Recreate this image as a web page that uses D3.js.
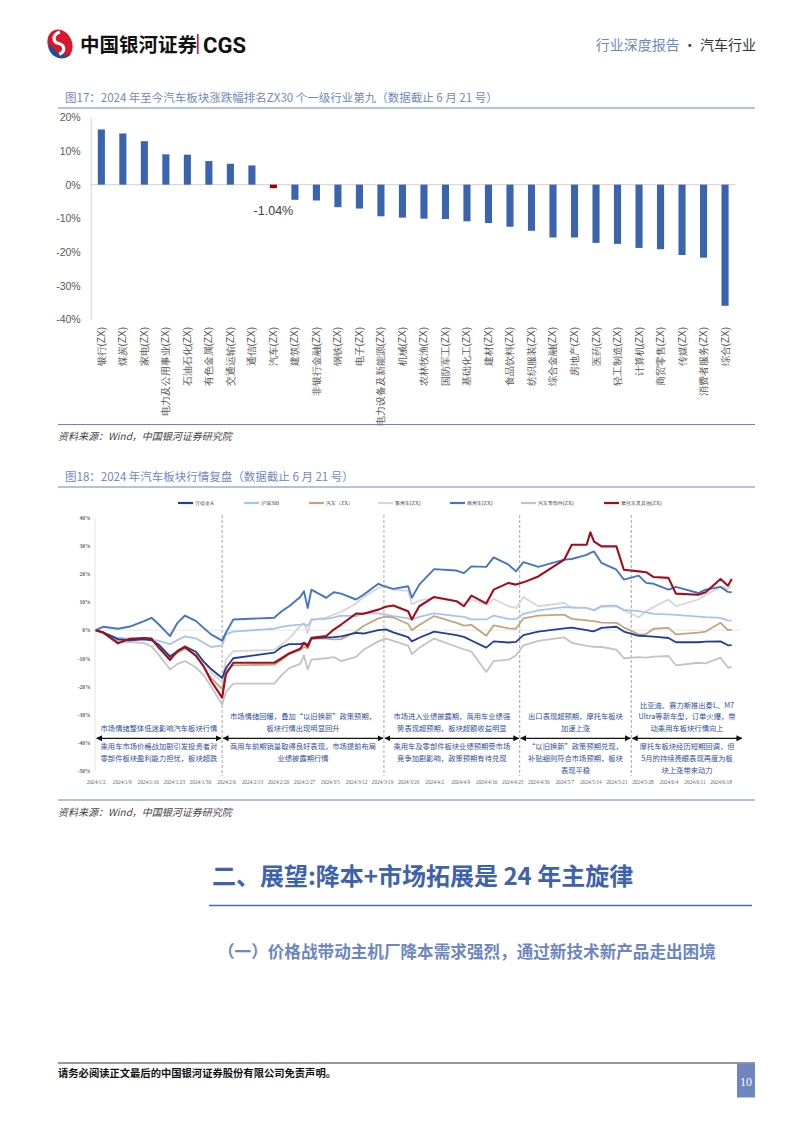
<!DOCTYPE html>
<html><head><meta charset="utf-8">
<script src="https://cdn.jsdelivr.net/npm/d3@7"></script>
<style>
body{margin:0;background:#fff;}
svg{display:block;font-family:"Noto Sans CJK SC","Noto Sans",sans-serif;}
</style></head><body>
<svg id="page" width="794" height="1123"></svg>
<script>
// ---------- Figure 17 data ----------
const industries = ["银行(ZX)","煤炭(ZX)","家电(ZX)","电力及公用事业(ZX)","石油石化(ZX)","有色金属(ZX)","交通运输(ZX)","通信(ZX)","汽车(ZX)","建筑(ZX)","非银行金融(ZX)","钢铁(ZX)","电子(ZX)","电力设备及新能源(ZX)","机械(ZX)","农林牧渔(ZX)","国防军工(ZX)","基础化工(ZX)","建材(ZX)","食品饮料(ZX)","纺织服装(ZX)","综合金融(ZX)","房地产(ZX)","医药(ZX)","轻工制造(ZX)","计算机(ZX)","商贸零售(ZX)","传媒(ZX)","消费者服务(ZX)","综合(ZX)"];
const industryReturns = [16.4,15.2,12.9,9.0,8.9,7.0,6.2,5.7,-1.04,-4.5,-4.7,-6.7,-7.1,-9.4,-9.8,-10.1,-10.2,-10.9,-11.4,-12.5,-13.7,-15.7,-15.7,-17.3,-17.6,-18.8,-19.2,-20.9,-21.7,-36.0];
const ticks17 = [20,10,0,-10,-20,-30,-40];

// ---------- Figure 18 data ----------
const tradeDates = ["2024-01-02","2024-01-04","2024-01-08","2024-01-11","2024-01-15","2024-01-17","2024-01-19","2024-01-22","2024-01-24","2024-01-26",
"2024-01-29","2024-01-31","2024-02-02","2024-02-05","2024-02-06","2024-02-08","2024-02-19","2024-02-21","2024-02-23","2024-02-26",
"2024-02-27","2024-02-28","2024-02-29","2024-03-04","2024-03-06","2024-03-08","2024-03-12","2024-03-14","2024-03-18","2024-03-20",
"2024-03-22","2024-03-26","2024-03-27","2024-03-29","2024-04-02","2024-04-08","2024-04-10","2024-04-12","2024-04-16","2024-04-18",
"2024-04-22","2024-04-24","2024-04-26","2024-04-30","2024-05-07","2024-05-09","2024-05-13","2024-05-14","2024-05-15","2024-05-17",
"2024-05-21","2024-05-23","2024-05-27","2024-05-29","2024-05-31","2024-06-04","2024-06-06","2024-06-12","2024-06-14","2024-06-18",
"2024-06-20","2024-06-21"];
const windA = [0,-0.8,-3.2,-3.6,-3.3,-3.6,-5.2,-9.4,-7.5,-5.8, -7.8,-11.2,-13.8,-17,-13.5,-10,-8,-6,-5,-5, -4.5,-5.2,-3,-2.6,-2.5,-2.2,-1,-1.2,0,0.3, -0.8,-2.5,-4,-2.7,-0.5,-1.8,-2.4,-3.7,-6.2,-4, -4.4,-4.2,-1.8,-0.5,0.6,0.9,0,-0.3,-0.4,0.8, 1.2,-0.5,-2,-2.1,-2.3,-2.8,-4.3,-4.3,-4.1,-4, -5.4,-5.3];
const hs300 = [0,-1,-2.8,-3,-3.2,-3.4,-3.8,-5,-3.5,-2.2, -3,-4.5,-6,-5.5,-1.5,-0.5,0.5,1.2,1.6,2, 2.2,1.5,3.8,4,4.5,5.2,5,6,6,5.5, 5,4.2,3.8,4.7,6,5,4.7,3.8,3.8,5.2, 4,3.9,5.8,7,8.2,8.1,7.9,7.5,7.2,8.6, 8.7,7.2,6.8,6.3,5.8,5.6,5.4,4.8,4.6,4.4, 3.5,3.4];
const autoZX = [0,-1,-4,-3.5,-3,-3.3,-6,-9.8,-8,-6.5, -8.8,-13,-17,-21,-14.5,-12.5,-12.3,-10.5,-8.5,-7, -6,-6.5,-3,-3,-3.3,-3.2,-0.5,1.5,4.2,4.8, 4.5,2.2,0,1.8,5,2.6,1.6,1.9,-2,1.7, 0.6,0.5,4.2,5.2,5.5,4,3.5,3.3,3.2,2.7, 2.6,1,-1.5,-1.4,0.5,0.8,-1.5,-0.9,-0.5,2.6, 0,0.2];
const passengerZX = [0,-1,-3.8,-3.4,-3,-3.2,-5.2,-9,-7.5,-5.6, -7.5,-11,-15,-18.5,-10.5,-7.5,-7,-5,-3,1.5, 2.5,-1,3.5,4.5,5.5,6.5,9.5,11.8,15,16, 14.4,14,9.2,10.5,11.5,10.3,9.5,10.9,9.1,11.1, 8.5,7.9,11.8,8.5,9.7,7.9,7.9,7.5,6.9,8.3, 8.5,7,4.6,6.7,8.2,10.9,8.5,10.9,12.5,15.4, 14.7,15.6];
const commercialZX = [0,1.2,0.5,1.2,3.2,4.4,2,-2.1,2.6,5.2, 3.2,0.8,-1.5,-3.7,-0.9,3.8,4.4,6.7,8.5,11.8, 13.8,7.9,14.4,11.5,13.5,13,10.9,12.6,16.5,15.4, 14.7,15.6,11.5,16.2,21.7,21.2,20.3,22.7,22.5,25.9, 23.3,20.9,24.2,22.5,25.1,25.3,26.8,27.5,28,23.9, 21.5,18,19.4,16.8,16.5,14.4,15.4,13.2,14.4,15.4, 13.6,13.5];
const partsZX = [0,-1,-4.3,-4.2,-4.6,-5.8,-8.8,-14,-12,-11, -13.3,-16,-20,-26.5,-22,-19,-19,-16,-13.5,-12, -9,-14,-10.5,-10,-9.6,-11,-9.5,-7,-4,-3, -3.8,-5.5,-8.5,-6.3,-3,-5.9,-6.8,-7.6,-14.9,-11, -10.5,-9,-5.4,-3.8,-2.6,-4.5,-5.6,-5.8,-5.9,-6, -6.9,-10,-9.6,-9.8,-9.4,-9.2,-12.5,-11.6,-11.8,-9.8, -13.4,-13];
const motoZX = [0,-0.8,-4.7,-3.1,-2.8,-3,-6.3,-10.6,-7.4,-6, -9.2,-12.8,-18,-24,-15.7,-11.6,-11.6,-10,-8.3,-6.6, -4.5,-5.9,-2.7,-2.1,0.2,2,5.9,5.8,7.3,8.3, 8.8,6.7,3.8,8.5,11.8,10.3,8.5,12.3,9.5,14.4, 16.8,16.2,17,19.1,25.1,30.4,30.4,34.8,31.5,29.8, 29.8,21.5,20.9,20.6,18.9,18.6,13,12.6,13.5,18.2, 15.8,18.2];
const seriesNames = ["万得全A","沪深300","汽车（ZX）","乘用车(ZX)","商用车(ZX)","汽车零部件(ZX)","摩托车及其他(ZX)"];
const ticks18 = [40,30,20,10,0,-10,-20,-30,-40,-50];
const phaseBounds = ["2024-01-02","2024-02-05","2024-03-19T12:00","2024-04-25","2024-05-25","2024-06-24"];
const phaseTop = [["市场情绪整体低迷影响汽车板块行情"],["市场情绪回暖，叠加“以旧换新”政策预期，","板块行情出现明显回升"],["市场进入业绩披露期，商用车业绩强","势表现超预期，板块超额收益明显"],["出口表现超预期，摩托车板块","加速上涨"],["比亚迪、赛力斯推出秦L、M7","Ultra等新车型，订单火爆，带","动乘用车板块行情向上"]];
const phaseBottom = [["乘用车市场价格战加剧引发投资者对","零部件板块盈利能力担忧，板块超跌"],["商用车前期销量取得良好表现，市场提前布局","业绩披露期行情"],["乘用车及零部件板块业绩预期受市场","竞争加剧影响，政策预期有待兑现"],["“以旧换新”政策预期兑现，","补贴细则符合市场预期，板块","表现平稳"],["摩托车板块经历短期回调，但","5月的持续亮眼表现再度为板","块上涨带来动力"]];

// ---------- drawing ----------
const svg = d3.select("#page");
const blueTitle = "#7189bd";

// Header logo
const logo = svg.append("g").attr("transform","translate(60,44) rotate(-25)");
logo.append("ellipse").attr("rx",12).attr("ry",15).attr("fill","#d7182a");
logo.append("path").attr("d","M-12,-2 C-14,10 -4,17 6,14 C-4,12 -9,6 -8,-4 Z").attr("fill","#1d4e9e");
logo.append("path").attr("d","M5,-11 C-3,-12 -6,-5 -1,-1 C4,3 2,9 -5,9").attr("fill","none").attr("stroke","#fff").attr("stroke-width",3.2);
svg.append("text").attr("x",80).attr("y",52).attr("font-size",19.5).attr("font-weight",700).attr("fill","#111").text("中国银河证券");
svg.append("rect").attr("x",197).attr("y",34).attr("width",1.6).attr("height",20).attr("fill","#d7182a");
svg.append("text").attr("x",203).attr("y",52.5).attr("font-size",22).attr("font-weight",700).attr("font-family","Roboto, Arial, sans-serif").attr("fill","#111").text("CGS");
const hr = svg.append("text").attr("x",756).attr("y",50).attr("text-anchor","end").attr("font-size",14);
hr.append("tspan").attr("fill","#6b8ac4").text("行业深度报告");
hr.append("tspan").attr("fill","#333").text(" · 汽车行业");

// ---------- Figure 17 ----------
svg.append("text").attr("x",65).attr("y",102).attr("font-size",11.5).attr("fill",blueTitle).text("图17：2024 年至今汽车板块涨跌幅排名ZX30 个一级行业第九（数据截止 6 月 21 号）");
svg.append("line").attr("x1",58).attr("x2",755).attr("y1",108).attr("y2",108).attr("stroke","#6a85b8").attr("stroke-width",1);

const x17 = d3.scaleBand().domain(industries).range([90.7,735.7]).paddingInner(0.67).paddingOuter(0.33);
const y17 = d3.scaleLinear().domain([-40,20]).range([319.3,117.3]);
const g17 = svg.append("g");
const ay17 = g17.append("g").attr("transform","translate(90.7,0)")
  .call(d3.axisLeft(y17).tickValues(ticks17).tickFormat(d=>d+"%").tickSize(0).tickPadding(10));
ay17.select(".domain").attr("stroke","#d9d9d9").attr("stroke-width",1.2);
ay17.selectAll("text").attr("font-size",10.5).attr("fill","#595959").attr("font-family","Liberation Sans, Arial, sans-serif");
g17.append("line").attr("x1",90.7).attr("x2",735.7).attr("y1",y17(0)).attr("y2",y17(0)).attr("stroke","#d9d9d9").attr("stroke-width",1.3);
g17.selectAll("rect.bar").data(industries).join("rect").attr("class","bar")
  .attr("x",d=>x17(d)).attr("width",x17.bandwidth())
  .attr("y",(d,i)=>y17(Math.max(0,industryReturns[i])))
  .attr("height",(d,i)=>Math.abs(y17(industryReturns[i])-y17(0)))
  .attr("fill",d=>d==="汽车(ZX)"?"#a00000":"#3a64ae");
const carIdx = industries.indexOf("汽车(ZX)");
g17.append("text").attr("x",x17("汽车(ZX)")+x17.bandwidth()/2).attr("y",y17(industryReturns[carIdx])+27)
  .attr("text-anchor","middle").attr("font-size",12.5).attr("fill","#404040").attr("font-family","Liberation Sans, Arial, sans-serif").text(industryReturns[carIdx].toFixed(2)+"%");
const ax17 = g17.append("g").attr("transform","translate(0,327)").call(d3.axisBottom(x17).tickSize(0));
ax17.select(".domain").remove();
ax17.selectAll("text").attr("y",0).attr("x",0).attr("dy","0.35em").attr("transform","rotate(-90)")
  .attr("text-anchor","end").attr("font-size",10).attr("fill","#595959");
svg.append("line").attr("x1",58).attr("x2",755).attr("y1",424.5).attr("y2",424.5).attr("stroke","#6a85b8").attr("stroke-width",1);
svg.append("text").attr("x",58).attr("y",440).attr("font-size",10).attr("font-style","italic").attr("fill","#444").text("资料来源：Wind，中国银河证券研究院");

// ---------- Figure 18 ----------
svg.append("text").attr("x",65).attr("y",481).attr("font-size",11.5).attr("fill",blueTitle).text("图18：2024 年汽车板块行情复盘（数据截止 6 月 21 号）");
svg.append("line").attr("x1",58).attr("x2",755).attr("y1",487).attr("y2",487).attr("stroke","#6a85b8").attr("stroke-width",1);

const parseDay = d3.timeParse("%Y-%m-%d");
const dates = tradeDates.map(d=>parseDay(d));
const x18 = d3.scaleTime().domain([dates[0], dates[dates.length-1]]).range([95.7,731.7]);
const y18 = d3.scaleLinear().domain([-50,40]).range([770.7,517.7]);
const g18 = svg.append("g");

const ay18 = g18.append("g").attr("transform","translate(94.5,0)")
  .call(d3.axisLeft(y18).tickValues(ticks18).tickFormat(d=>d+"%").tickSize(0).tickPadding(4));
ay18.select(".domain").attr("stroke","#e3e3e3").attr("stroke-width",1);
ay18.selectAll("text").attr("font-size",5.5).attr("fill","#666").attr("font-weight",700).attr("font-family","Liberation Serif, serif");
g18.append("line").attr("x1",95).attr("x2",740).attr("y1",y18(0)).attr("y2",y18(0)).attr("stroke","#e6e6e6").attr("stroke-width",1);

// x axis labels weekly
const tickDates = d3.timeDay.range(dates[0], d3.timeDay.offset(dates[dates.length-1],1), 1).filter((d,i)=>i%7===0);
const ax18 = g18.append("g").attr("transform","translate(0,780)")
  .call(d3.axisBottom(x18).tickValues(tickDates).tickFormat(d3.timeFormat("%Y/%-m/%-d")).tickSize(0).tickPadding(0));
ax18.select(".domain").remove();
ax18.selectAll("text").attr("font-size",5.3).attr("fill","#666").attr("font-family","Liberation Serif, serif");

// phase dividers
const bounds = phaseBounds.map(d=>d3.isoParse(d) || parseDay(d));
bounds.slice(1,5).forEach(b=>{
  g18.append("line").attr("x1",x18(b)).attr("x2",x18(b)).attr("y1",515).attr("y2",776)
    .attr("stroke","#a6a6a6").attr("stroke-width",1).attr("stroke-dasharray","3,2");
});

// series
const seriesData = [windA,hs300,autoZX,passengerZX,commercialZX,partsZX,motoZX];
const colors = ["#1f3f99","#a7c4ef","#c4a47c","#d6d6d6","#4674c2","#c3c3c3","#a30d1a"];
const widths = [1.8,1.8,1.8,1.8,1.9,1.8,2.1];
const drawOrder = [3,5,1,2,0,4,6];
const line = d3.line().x((d,i)=>x18(dates[i])).y(d=>y18(d));
drawOrder.forEach(k=>{
  g18.append("path").attr("d",line(seriesData[k])).attr("fill","none")
    .attr("stroke",colors[k]).attr("stroke-width",widths[k]).attr("stroke-linejoin","round");
});

// legend
const legX = [178,244,309,378,450,521,604];
seriesNames.forEach((n,i)=>{
  g18.append("line").attr("x1",legX[i]).attr("x2",legX[i]+15).attr("y1",503).attr("y2",503).attr("stroke",colors[i]).attr("stroke-width",2.2);
  g18.append("text").attr("x",legX[i]+17).attr("y",505).attr("font-size",5.3).attr("fill","#444").attr("font-family","Liberation Serif, serif").text(n);
});

// arrows & annotations
const defs = svg.append("defs");
defs.append("marker").attr("id","arr").attr("viewBox","0 0 10 10").attr("refX",9).attr("refY",5)
  .attr("markerWidth",5).attr("markerHeight",5).attr("orient","auto-start-reverse")
  .append("path").attr("d","M0,0 L10,5 L0,10 Z").attr("fill","#111");
const annColor = "#2f4f9c";
const fsA = 7.3, lh = 11.6, arrowY = 738.3;
for(let p=0;p<5;p++){
  const xa = x18(bounds[p])+1, xb = x18(bounds[p+1])-1;
  g18.append("line").attr("x1",xa).attr("x2",xb).attr("y1",arrowY).attr("y2",arrowY)
    .attr("stroke","#111").attr("stroke-width",1.2).attr("marker-start","url(#arr)").attr("marker-end","url(#arr)");
  const cx = (xa+xb)/2;
  const top = phaseTop[p];
  top.forEach((t,j)=>{
    g18.append("text").attr("x",cx).attr("y",arrowY-7.5-(top.length-1-j)*lh).attr("text-anchor","middle")
      .attr("font-size",fsA).attr("fill",annColor).text(t);
  });
  phaseBottom[p].forEach((t,j)=>{
    g18.append("text").attr("x",cx).attr("y",arrowY+11+j*lh).attr("text-anchor","middle")
      .attr("font-size",fsA).attr("fill",annColor).text(t);
  });
}

svg.append("line").attr("x1",58).attr("x2",755).attr("y1",800).attr("y2",800).attr("stroke","#6a85b8").attr("stroke-width",1);
svg.append("text").attr("x",58).attr("y",816).attr("font-size",10).attr("font-style","italic").attr("fill","#444").text("资料来源：Wind，中国银河证券研究院");

// ---------- Section headings ----------
svg.append("text").attr("x",212).attr("y",885).attr("font-size",24).attr("font-weight",700).attr("fill","#3e62ac").text("二、展望:降本+市场拓展是 24 年主旋律");
svg.append("line").attr("x1",209).attr("x2",752).attr("y1",905.5).attr("y2",905.5).attr("stroke","#4a6cb0").attr("stroke-width",1.5);
svg.append("text").attr("x",218).attr("y",958).attr("font-size",16.6).attr("font-weight",700).attr("fill","#6c86bf").text("（一）价格战带动主机厂降本需求强烈，通过新技术新产品走出困境");

// ---------- Footer ----------
svg.append("line").attr("x1",58).attr("x2",755).attr("y1",1063).attr("y2",1063).attr("stroke","#333").attr("stroke-width",1);
svg.append("text").attr("x",58).attr("y",1077).attr("font-size",10.3).attr("font-weight",700).attr("fill","#111").text("请务必阅读正文最后的中国银河证券股份有限公司免责声明。");
svg.append("rect").attr("x",737).attr("y",1063.5).attr("width",18).attr("height",34).attr("fill","#6f86c0");
svg.append("text").attr("x",746).attr("y",1086).attr("text-anchor","middle").attr("font-size",12).attr("fill","#fff").attr("font-family","Liberation Serif, serif").text("10");
</script>
</body></html>
